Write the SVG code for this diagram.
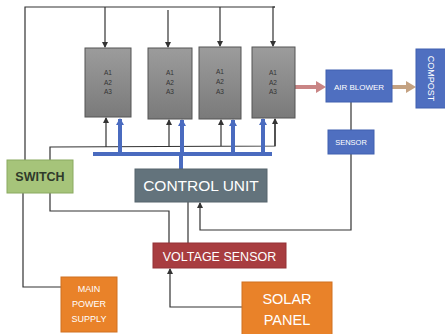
<svg xmlns="http://www.w3.org/2000/svg" width="445" height="334" viewBox="0 0 445 334">
<style>
.ln{fill:none;stroke:#333;stroke-width:1.2}
.blue{fill:none;stroke:#4a6bbf;stroke-width:4}
.gb{fill:url(#gg);stroke:#555;stroke-width:1}
.at{font-family:"Liberation Sans",Arial,sans-serif;font-size:6.5px;fill:#333;text-anchor:middle}
.wt{font-family:"Liberation Sans",Arial,sans-serif;fill:#fff;text-anchor:middle}
</style>
<defs>
<linearGradient id="gg" x1="0" y1="0" x2="0" y2="1"><stop offset="0" stop-color="#9c9c9c"/><stop offset="1" stop-color="#7a7a7a"/></linearGradient>
<marker id="ah" markerWidth="6" markerHeight="6" refX="5" refY="3" orient="auto" markerUnits="userSpaceOnUse"><path d="M0,0 L6,3 L0,6 Z" fill="#333"/></marker>
<marker id="bh" markerWidth="8" markerHeight="8" refX="6" refY="4" orient="auto" markerUnits="userSpaceOnUse"><path d="M0,0 L7,4 L0,8 Z" fill="#4a6bbf"/></marker>
</defs>
<g id="connectors">
<polyline class="ln" points="25,160 25,7 275,7"/>
<line class="ln" x1="105" y1="7" x2="105" y2="47" marker-end="url(#ah)"/>
<line class="ln" x1="168" y1="10" x2="168" y2="47" marker-end="url(#ah)"/>
<line class="ln" x1="220" y1="7" x2="220" y2="46" marker-end="url(#ah)"/>
<polyline class="ln" points="275,7 273,7 273,46" marker-end="url(#ah)"/>
<polyline class="ln" points="50,160 50,147 275,146 275,119"/>
<line class="ln" x1="106" y1="147" x2="106" y2="118" marker-end="url(#ah)"/>
<line class="ln" x1="169" y1="147" x2="169" y2="120" marker-end="url(#ah)"/>
<line class="ln" x1="221" y1="146" x2="221" y2="120" marker-end="url(#ah)"/>
<line class="ln" x1="275" y1="146" x2="275" y2="119" marker-end="url(#ah)"/>
<line class="blue" x1="93" y1="154" x2="272" y2="154" stroke-width="5"/>
<line class="blue" x1="120" y1="154" x2="120" y2="119" marker-end="url(#bh)"/>
<line class="blue" x1="182" y1="154" x2="182" y2="120" marker-end="url(#bh)"/>
<line class="blue" x1="233" y1="154" x2="233" y2="120" marker-end="url(#bh)"/>
<line class="blue" x1="263" y1="154" x2="263" y2="119" marker-end="url(#bh)"/>
<line class="blue" x1="181" y1="154" x2="181" y2="169" stroke-width="3"/>
<polyline class="ln" points="23,193 23,287 61,287"/>
<polyline class="ln" points="50,193 50,211 169,211 169,243"/>
<line class="ln" x1="188" y1="202" x2="188" y2="243"/>
<polyline class="ln" points="351,154 351,230 200,230 200,203" marker-end="url(#ah)"/>
<polyline class="ln" points="242,307 170,307 170,269" marker-end="url(#ah)"/>
<line class="ln" x1="351" y1="102" x2="351" y2="130"/>
<line x1="295" y1="87" x2="318" y2="87" stroke="#c98585" stroke-width="4"/>
<path d="M316,81 L326,87 L316,93 Z" fill="#c98585"/>
<line x1="392" y1="87" x2="408" y2="87" stroke="#c4a282" stroke-width="4"/>
<path d="M406,81 L416,87 L406,93 Z" fill="#c4a282"/>
</g>
<g id="box1"><rect class="gb" x="85" y="48" width="46" height="69"/><text class="at" x="108" y="75">A1</text><text class="at" x="108" y="85">A2</text><text class="at" x="108" y="94">A3</text></g>
<g id="box2"><rect class="gb" x="148" y="48" width="44" height="71"/><text class="at" x="170" y="75">A1</text><text class="at" x="170" y="85">A2</text><text class="at" x="170" y="94">A3</text></g>
<g id="box3"><rect class="gb" x="199" y="47" width="42" height="72"/><text class="at" x="220" y="74">A1</text><text class="at" x="220" y="84">A2</text><text class="at" x="220" y="94">A3</text></g>
<g id="box4"><rect class="gb" x="252" y="47" width="43" height="71"/><text class="at" x="273" y="75">A1</text><text class="at" x="273" y="85">A2</text><text class="at" x="273" y="94">A3</text></g>
<g id="airblower"><rect x="326" y="70" width="66" height="32" fill="#4f6fc0" stroke="#4060b0"/><text class="wt" x="359" y="89.5" font-size="8">AIR BLOWER</text></g>
<g id="compost"><rect x="416" y="49" width="30" height="59" fill="#4f6fc0" stroke="#4060b0"/><text class="wt" font-size="9" transform="translate(428,78.5) rotate(90)">COMPOST</text></g>
<g id="sensor"><rect x="328" y="130" width="46" height="24" fill="#4f6fc0" stroke="#4060b0"/><text class="wt" x="351" y="145" font-size="7.5">SENSOR</text></g>
<g id="switch"><rect x="7" y="160" width="66" height="33" fill="#a6c47a" stroke="#8aaa60"/><text x="40" y="181" font-family="Liberation Sans,Arial,sans-serif" font-size="12.5" font-weight="bold" fill="#2f3a2a" text-anchor="middle">SWITCH</text></g>
<g id="controlunit"><rect x="135" y="169" width="132" height="33" fill="#63737c" stroke="#56656d"/><text class="wt" x="201" y="191" font-size="15.5" fill="#e8eef2">CONTROL UNIT</text></g>
<g id="voltagesensor"><rect x="153" y="243" width="133" height="25" fill="#a83d40" stroke="#933336"/><text class="wt" x="219.5" y="261" font-size="12.5" fill="#f3dede">VOLTAGE SENSOR</text></g>
<g id="mainpower"><rect x="61" y="277" width="56" height="55" fill="#e98229" stroke="#d07020"/><text class="wt" x="89" y="292" font-size="9">MAIN</text><text class="wt" x="89" y="307" font-size="9">POWER</text><text class="wt" x="89" y="322" font-size="9">SUPPLY</text></g>
<g id="solarpanel"><rect x="242" y="282" width="90" height="53" fill="#e98229" stroke="#d07020"/><text class="wt" x="287" y="304" font-size="14.5">SOLAR</text><text class="wt" x="287" y="325" font-size="14.5">PANEL</text></g>
</svg>
